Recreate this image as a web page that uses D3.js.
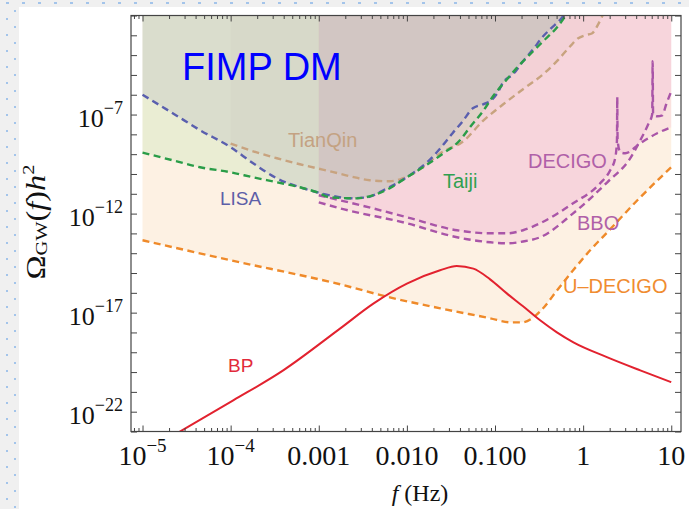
<!DOCTYPE html>
<html lang="en">
<head>
<meta charset="UTF-8">
<title>FIMP DM</title>
<script src="https://d3js.org/d3.v7.min.js"></script>
<style>
  body { margin: 0; background: #f0f0f0; }
  svg { display: block; }
</style>
</head>
<body>
<div id="chart"></div>
<script>

// ---- data (f in Hz, Omega_GW h^2) ----
const lisaF = [1e-5, 2.2e-5, 4.5e-5, 1e-4, 1.8e-4, 3.35e-4, 6.1e-4, 9.5e-4, 1.34e-3, 2.26e-3, 3.5e-3, 5.4e-3, 7.7e-3, 1.17e-2, 1.7e-2, 2.4e-2, 3.3e-2, 4.3e-2, 5.6e-2, 7.3e-2, 8.8e-2, 0.106, 0.124, 0.161, 0.208, 0.271, 0.352, 0.423, 0.593, 0.713]
const lisaOmega = [1.0e-6, 1.17e-7, 1.62e-8, 2.24e-9, 3.47e-10, 6.0e-11, 2.14e-11, 1.2e-11, 8.3e-12, 5.9e-12, 6.6e-12, 1.51e-11, 3.39e-11, 1.1e-10, 3.89e-10, 2.0e-9, 1.15e-8, 4.57e-8, 2.08e-7, 3.3e-7, 4.7e-7, 1.19e-6, 4.27e-6, 1.1e-5, 4.9e-5, 2.0e-4, 8.9e-4, 2.04e-3, 9.1e-3, 3.3e-2]

const taijiF = [1e-5, 2.2e-5, 4.5e-5, 1e-4, 1.8e-4, 3.35e-4, 6.1e-4, 9.5e-4, 1.34e-3, 2.7e-3, 4.1e-3, 6.4e-3, 1.0e-2, 1.52e-2, 2.6e-2, 4.0e-2, 5.2e-2, 7.3e-2, 9.5e-2, 0.137, 0.193, 0.271, 0.352, 0.507, 0.625, 0.75]
const taijiOmega = [1.2e-9, 4.9e-10, 2.18e-10, 1.22e-10, 6.8e-11, 3.81e-11, 2.14e-11, 1.2e-11, 6.6e-12, 5.9e-12, 8.3e-12, 1.9e-11, 6.8e-11, 2.18e-10, 1.11e-9, 5.0e-9, 2.29e-8, 1.47e-7, 8.4e-7, 6.07e-6, 3.47e-5, 1.57e-4, 5.0e-4, 2.56e-3, 9.1e-3, 3.3e-2]

const tianqinF = [1e-4, 1.8e-4, 3.35e-4, 6.1e-4, 9.5e-4, 1.34e-3, 2.26e-3, 3.8e-3, 6.4e-3, 8.4e-3, 1.09e-2, 1.52e-2, 2.4e-2, 4.4e-2, 7.3e-2, 0.124, 0.208, 0.352, 0.507, 0.713, 0.88, 1.055, 1.27, 1.48, 1.73, 1.93]
const tianqinOmega = [3.43e-9, 1.4e-9, 6.2e-10, 3.09e-10, 1.94e-10, 1.37e-10, 7.7e-11, 4.8e-11, 4.3e-11, 5.4e-11, 8.6e-11, 2.18e-10, 1.11e-9, 4.6e-9, 4.75e-8, 3.3e-7, 1.9e-6, 1.08e-5, 5.1e-5, 2.8e-4, 7.1e-4, 1.01e-3, 1.28e-3, 3.6e-3, 1.47e-2, 4.2e-2]

const decigoF = [1e-3, 1.74e-3, 4.1e-3, 1.0e-2, 3.7e-2, 8.8e-2, 0.137, 0.208, 0.325, 0.77, 1.56, 2.03, 2.31, 2.42, 2.44, 2.46, 2.64, 3.0, 4.45, 6.93, 10]
const decigoOmega = [8.4e-12, 4.7e-12, 1.85e-12, 6.5e-13, 1.44e-13, 1.01e-13, 1.01e-13, 1.44e-13, 3.24e-13, 3.3e-12, 3.39e-11, 1.54e-10, 6.2e-10, 5.0e-9, 7.5e-7, 5.0e-9, 1.25e-9, 1.11e-9, 3.56e-9, 1.14e-8, 2.29e-8]

const bboF = [1e-3, 1.74e-3, 1.0e-2, 3.7e-2, 8.8e-2, 0.137, 0.208, 0.325, 0.77, 1.88, 3.42, 4.45, 5.48, 6.08, 6.15, 6.22, 6.93, 7.9, 8.77, 10]
const bboOmega = [3.7e-12, 1.85e-12, 3.24e-13, 6.4e-14, 3.56e-14, 3.16e-14, 3.9e-14, 6.4e-14, 1.03e-12, 3.81e-11, 6.2e-10, 5.0e-9, 3.24e-8, 1.04e-7, 4.9e-5, 1.04e-7, 8.2e-8, 9.2e-8, 3.3e-7, 1.5e-6]

const udecigoF = [1e-5, 1e-4, 1.74e-3, 6.4e-3, 2.4e-2, 8.8e-2, 0.148, 0.203, 0.264, 0.334, 0.507, 0.77, 1.2, 1.88, 4.45, 10]
const udecigoOmega = [4.5e-14, 4.4e-15, 2.7e-16, 5.9e-17, 1.65e-17, 5.2e-18, 3.24e-18, 3.24e-18, 5.2e-18, 1.3e-17, 1.34e-16, 1.37e-15, 1.4e-14, 1.14e-13, 6.65e-12, 2.18e-10]

const bpF = [1.8e-5, 1.07e-4, 3.95e-4, 1.74e-3, 4.16e-3, 1.0e-2, 2.38e-2, 3.68e-2, 5.68e-2, 8.8e-2, 0.136, 0.208, 0.325, 0.504, 0.776, 1.86, 4.45, 10]
const bpOmega = [3.6e-24, 3.7e-22, 1.22e-20, 1.56e-18, 2.85e-17, 2.92e-16, 1.37e-15, 2.26e-15, 1.67e-15, 4.8e-16, 9.4e-17, 2.08e-17, 4.1e-18, 1.01e-18, 3.16e-19, 5.7e-20, 1.22e-20, 3.1e-21]

// tick labels
const xTickValues = [1e-5, 1e-4, 1e-3, 1e-2, 1e-1, 1, 10]
const xTickLabels = [["10", "\u22125"], ["10", "\u22124"], ["0.001", ""], ["0.010", ""], ["0.100", ""], ["1", ""], ["10", ""]]
const yTickValues = [1e-7, 1e-12, 1e-17, 1e-22]
const yTickLabels = [["10", "\u22127"], ["10", "\u221212"], ["10", "\u221217"], ["10", "\u221222"]]

// ---- layout ----
const W = 689, H = 509
const PLOT = { LEFT: 131, RIGHT: 681, TOP: 15.5, BOTTOM: 431.5 }
const SERIF = "'Liberation Serif', 'Times New Roman', serif"
const SANS = "'Liberation Sans', Arial, sans-serif"

const svg = d3.select("#chart").append("svg")
    .attr("width", W)
    .attr("height", H)

// page background with the little blue guide dots
svg.append("rect").attr("width", W).attr("height", H).attr("fill", "#f0f0f0")
const guide = svg.append("g").attr("fill", "#a3c4ea")
for (let i = 0; i < 44; i++) guide.append("rect").attr("x", 6 + 16 * i).attr("y", 2).attr("width", 3).attr("height", 2)
for (let j = 0; j < 32; j++) {
    guide.append("rect").attr("x", 6).attr("y", 18 + 16 * j).attr("width", 2).attr("height", 2)
    guide.append("rect").attr("x", 14).attr("y", 10 + 16 * j).attr("width", 2).attr("height", 2)
}
svg.append("rect").attr("x", 19).attr("y", 7).attr("width", W - 19).attr("height", H - 7).attr("fill", "#fff")

const x = d3.scaleLog().domain([7.4e-6, 12.9]).range([PLOT.LEFT, PLOT.RIGHT])
const y = d3.scaleLog().domain([1e-23, 1e-2]).range([PLOT.BOTTOM, PLOT.TOP])

svg.append("clipPath").attr("id", "plotclip")
    .append("rect")
    .attr("x", PLOT.LEFT).attr("y", PLOT.TOP)
    .attr("width", PLOT.RIGHT - PLOT.LEFT).attr("height", PLOT.BOTTOM - PLOT.TOP)

const zip = (fs, os) => fs.map((f, i) => ({ f: f, o: os[i] }))

const detectors = [
    { name: "U-DECIGO", data: zip(udecigoF, udecigoOmega), line: "#ef8a2a", fill: "#f0a040", op: 0.15 },
    { name: "BBO", data: zip(bboF, bboOmega), line: "#a955a8", fill: "#dd5ec2", op: 0.1 },
    { name: "DECIGO", data: zip(decigoF, decigoOmega), line: "#a955a8", fill: "#dd5ec2", op: 0.1 },
    { name: "TianQin", data: zip(tianqinF, tianqinOmega), line: "#c8a37f", fill: "#b09070", op: 0.05 },
    { name: "LISA", data: zip(lisaF, lisaOmega), line: "#5a5fae", fill: "#7f7ab3", op: 0.15 },
    { name: "Taiji", data: zip(taijiF, taijiOmega), line: "#2a9d48", fill: "#7ed677", op: 0.15 }
]

const plot = svg.append("g").attr("clip-path", "url(#plotclip)")

const area = d3.area()
    .x(d => x(d.f))
    .y0(PLOT.TOP - 40)
    .y1(d => y(d.o))
    .curve(d3.curveMonotoneX)

const line = d3.line()
    .x(d => x(d.f))
    .y(d => y(d.o))
    .curve(d3.curveMonotoneX)

plot.selectAll(".fill").data(detectors).enter().append("path")
    .attr("class", "fill")
    .attr("d", d => area(d.data))
    .attr("fill", d => d.fill)
    .attr("fill-opacity", d => d.op)

plot.selectAll(".sens").data(detectors).enter().append("path")
    .attr("class", "sens")
    .attr("d", d => line(d.data))
    .attr("fill", "none")
    .attr("stroke", d => d.line)
    .attr("stroke-width", 2.4)
    .attr("stroke-dasharray", "7,4.5")

// the BP signal
plot.append("path")
    .attr("d", line(zip(bpF, bpOmega)))
    .attr("fill", "none")
    .attr("stroke", "#e2222f")
    .attr("stroke-width", 2)

// ---- frame + ticks ----
const decades = d3.range(-23, -1).map(e => Math.pow(10, e))
const xMinor = []
for (let e = -6; e <= 1; e++) for (let k = 2; k <= 9; k++) {
    const v = k * Math.pow(10, e)
    if (v > 7.4e-6 && v < 12.9) xMinor.push(v)
}

const axisStyle = g => {
    g.select(".domain").remove()
    g.selectAll("line").attr("stroke", "#444").attr("stroke-width", 1)
    g.selectAll("text").remove()
}

svg.append("g").attr("transform", `translate(0, ${PLOT.BOTTOM})`)
    .call(d3.axisBottom(x).tickValues(xTickValues).tickSize(-6)).call(axisStyle)
svg.append("g").attr("transform", `translate(0, ${PLOT.BOTTOM})`)
    .call(d3.axisBottom(x).tickValues(xMinor).tickSize(-3.5)).call(axisStyle)
svg.append("g").attr("transform", `translate(0, ${PLOT.TOP})`)
    .call(d3.axisTop(x).tickValues(xTickValues).tickSize(-6)).call(axisStyle)
svg.append("g").attr("transform", `translate(0, ${PLOT.TOP})`)
    .call(d3.axisTop(x).tickValues(xMinor).tickSize(-3.5)).call(axisStyle)
svg.append("g").attr("transform", `translate(${PLOT.LEFT}, 0)`)
    .call(d3.axisLeft(y).tickValues(decades).tickSize(-6)).call(axisStyle)
svg.append("g").attr("transform", `translate(${PLOT.RIGHT}, 0)`)
    .call(d3.axisRight(y).tickValues(decades).tickSize(-6)).call(axisStyle)

svg.append("rect")
    .attr("x", PLOT.LEFT).attr("y", PLOT.TOP)
    .attr("width", PLOT.RIGHT - PLOT.LEFT).attr("height", PLOT.BOTTOM - PLOT.TOP)
    .attr("fill", "none").attr("stroke", "#444").attr("stroke-width", 1.2)

// tick labels
const powLabel = (px, py, parts, size, supSize, raise, anchor) => {
    const t = svg.append("text")
        .attr("x", px).attr("y", py)
        .attr("text-anchor", anchor)
        .attr("font-family", SERIF)
        .attr("font-size", size)
        .attr("fill", "#111")
    t.append("tspan").text(parts[0])
    if (parts[1]) t.append("tspan").attr("font-size", supSize).attr("dy", -raise).text(parts[1])
}
xTickValues.forEach((v, i) => powLabel(x(v), 465, xTickLabels[i], 28, 19, 13, "middle"))
yTickValues.forEach((v, i) => powLabel(123, y(v) + 12, yTickLabels[i], 26, 18, 13, "end"))

// axis titles
const xt = svg.append("text")
    .attr("x", 420).attr("y", 501)
    .attr("text-anchor", "middle")
    .attr("font-family", SERIF).attr("font-size", 24).attr("fill", "#111")
xt.append("tspan").attr("font-style", "italic").text("f")
xt.append("tspan").text(" (Hz)")

const yt = svg.append("text")
    .attr("transform", "translate(45, 222) rotate(-90) scale(1.2, 1)")
    .attr("text-anchor", "middle")
    .attr("font-family", SERIF).attr("font-size", 27).attr("fill", "#111")
yt.append("tspan").text("\u03A9")
yt.append("tspan").attr("font-size", 17).attr("dy", 2).text("GW")
yt.append("tspan").attr("dy", -2).text("(")
yt.append("tspan").attr("font-style", "italic").text("f")
yt.append("tspan").text(")")
yt.append("tspan").attr("font-style", "italic").text("h")
yt.append("tspan").attr("font-size", 17).attr("dy", -11).text("2")

// curve labels
const labels = [
    { text: "FIMP DM", x: 182, y: 80, size: 38, color: "#0000ff" },
    { text: "TianQin", x: 288, y: 147, size: 20, color: "#c4a282" },
    { text: "LISA", x: 220, y: 205, size: 19, color: "#5d5fa8" },
    { text: "Taiji", x: 443, y: 188, size: 20, color: "#30a050" },
    { text: "DECIGO", x: 528, y: 168, size: 20, color: "#b060a8" },
    { text: "BBO", x: 577, y: 230, size: 20, color: "#b060a8" },
    { text: "U\u2013DECIGO", x: 563, y: 293, size: 20, color: "#f08c30" },
    { text: "BP", x: 228, y: 372, size: 19, color: "#e22a3a" }
]
svg.selectAll(".clabel").data(labels).enter().append("text")
    .attr("class", "clabel")
    .attr("x", d => d.x).attr("y", d => d.y)
    .attr("font-family", SANS)
    .attr("font-size", d => d.size)
    .attr("fill", d => d.color)
    .text(d => d.text)

</script>
</body>
</html>
